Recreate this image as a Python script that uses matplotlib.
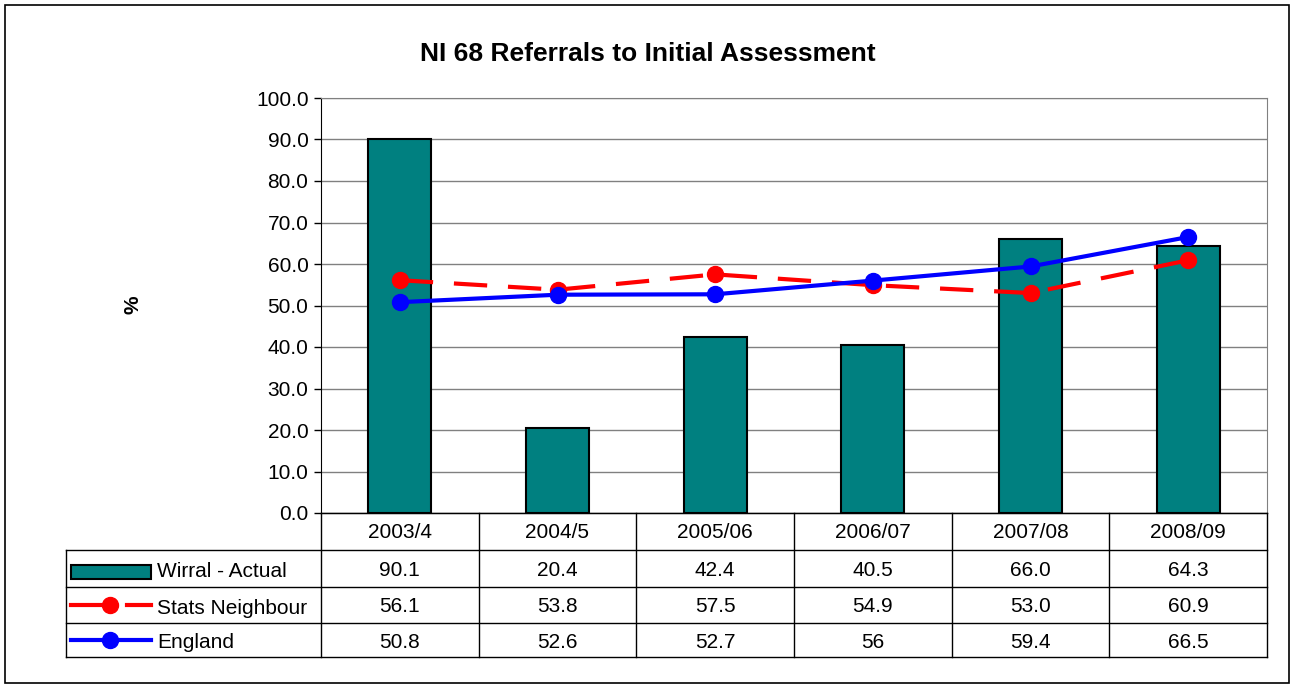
import matplotlib.pyplot as plt
import numpy as np
from matplotlib.patches import Rectangle
from matplotlib.lines import Line2D

plt.rcParams['font.family'] = ['Liberation Sans', 'DejaVu Sans']

categories = ['2003/4', '2004/5', '2005/06', '2006/07', '2007/08', '2008/09']
wirral = [90.1, 20.4, 42.4, 40.5, 66.0, 64.3]
stats_neighbour = [56.1, 53.8, 57.5, 54.9, 53.0, 60.9]
england = [50.8, 52.6, 52.7, 56, 59.4, 66.5]
wirral_lbl = ['90.1', '20.4', '42.4', '40.5', '66.0', '64.3']
stats_lbl = ['56.1', '53.8', '57.5', '54.9', '53.0', '60.9']
england_lbl = ['50.8', '52.6', '52.7', '56', '59.4', '66.5']

W, H = 1292, 688
FS = 15
fig = plt.figure(figsize=(W / 100, H / 100), dpi=100)

# outer chart border
fig.add_artist(Rectangle((5 / W, 5 / H), 1284 / W, 678 / H, transform=fig.transFigure,
                         fill=False, edgecolor='black', linewidth=1.2))

left, right, top, bottom = 321, 1267, 98, 513
ax = fig.add_axes([left / W, 1 - bottom / H, (right - left) / W, (bottom - top) / H])

x = np.arange(len(categories)) + 0.5
ax.bar(x, wirral, width=0.4, color='#008080', edgecolor='black', linewidth=1.5, zorder=2)
ax.plot(x, stats_neighbour, color='red', linestyle=(0, (8, 5)), linewidth=3,
        marker='o', markersize=11.5, zorder=3)
ax.plot(x, england, color='blue', linewidth=3, marker='o', markersize=11.5, zorder=4)

ax.set_xlim(0, len(categories))
ax.set_ylim(0, 100)
ax.set_yticks(np.arange(0, 101, 10))
ax.set_yticklabels([f'{v:.1f}' for v in np.arange(0, 101, 10)], fontsize=FS)
ax.yaxis.grid(True, color='#808080', linewidth=1)
ax.set_axisbelow(True)
ax.set_xticks([])
ax.tick_params(axis='y', direction='out', length=5, width=1, pad=4)
for s in ['top', 'right']:
    ax.spines[s].set_color('#808080')
ax.spines['left'].set_color('black')
ax.spines['bottom'].set_color('black')

fig.text(648 / W, 1 - 54 / H, 'NI 68 Referrals to Initial Assessment',
         ha='center', va='center', fontsize=19, fontweight='bold')
fig.text(133 / W, 1 - 305 / H, '%', rotation=90, ha='center', va='center',
         fontsize=FS, fontweight='bold')

# data table drawn in figure pixel coordinates
def fx(px):
    return px / W

def fy(py):
    return 1 - py / H

rows = [513, 550, 587, 623, 657]
tleft = 66
col_w = (right - left) / len(categories)

def hline(x0, x1, y):
    fig.add_artist(Line2D([fx(x0), fx(x1)], [fy(y), fy(y)], color='black', linewidth=1))

def vline(xp, y0, y1):
    fig.add_artist(Line2D([fx(xp), fx(xp)], [fy(y0), fy(y1)], color='black', linewidth=1))

hline(left, right, rows[0])
for r in rows[1:]:
    hline(tleft, right, r)
vline(tleft, rows[1], rows[4])
for i in range(len(categories) + 1):
    vline(left + i * col_w, rows[0], rows[4])

for i, cat in enumerate(categories):
    cx = fx(left + (i + 0.5) * col_w)
    fig.text(cx, fy((rows[0] + rows[1]) / 2 + 1), cat, ha='center', va='center', fontsize=FS)
    for j, labels in enumerate([wirral_lbl, stats_lbl, england_lbl]):
        fig.text(cx, fy((rows[j + 1] + rows[j + 2]) / 2 + 2), labels[i],
                 ha='center', va='center', fontsize=FS)

# legend keys in the table
names = ['Wirral - Actual', 'Stats Neighbour', 'England']
for j, name in enumerate(names):
    yc = (rows[j + 1] + rows[j + 2]) / 2 + 3
    fig.text(fx(157), fy(yc), name, ha='left', va='center', fontsize=FS)
ky = (rows[1] + rows[2]) / 2 + 3
fig.add_artist(Rectangle((fx(71), fy(ky + 7)), (151 - 71) / W, 14 / H, transform=fig.transFigure,
                         facecolor='#008080', edgecolor='black', linewidth=1.5))
ky = (rows[2] + rows[3]) / 2
fig.add_artist(Line2D([fx(71), fx(110)], [fy(ky), fy(ky)], color='red', linewidth=3))
fig.add_artist(Line2D([fx(127), fx(151)], [fy(ky), fy(ky)], color='red', linewidth=3))
fig.add_artist(Line2D([fx(110)], [fy(ky)], color='red', marker='o', markersize=11.5))
ky = (rows[3] + rows[4]) / 2
fig.add_artist(Line2D([fx(71), fx(151)], [fy(ky), fy(ky)], color='blue', linewidth=3))
fig.add_artist(Line2D([fx(110)], [fy(ky)], color='blue', marker='o', markersize=11.5))

fig.savefig('out.png', dpi=100)
